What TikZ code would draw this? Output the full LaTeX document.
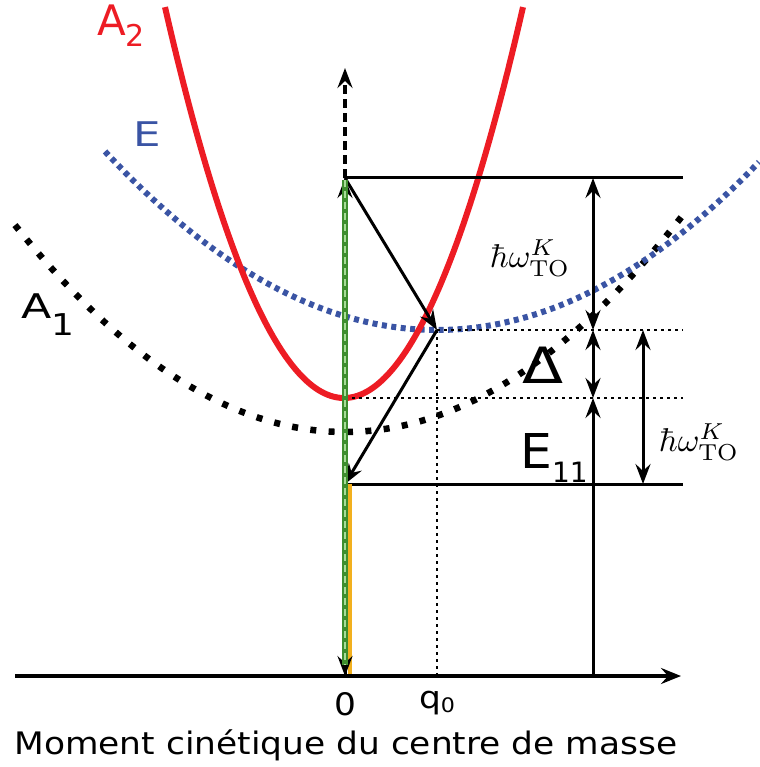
\documentclass[tikz,border=0pt]{standalone}
\usepackage[no-math]{fontspec}
\setmainfont{DejaVu Sans}
\usepackage{graphicx}
\usetikzlibrary{arrows.meta}
\definecolor{acol}{HTML}{ED1C24}
\definecolor{ecol}{HTML}{3A54A4}
\definecolor{gdark}{HTML}{3E8E2E}
\definecolor{glight}{HTML}{A8DC98}
\definecolor{ycol}{HTML}{F2B01E}
\newcommand{\lowsub}[3]{\raisebox{-#2pt}{\fontsize{#1}{#1}\selectfont #3}}
\newcommand{\wide}[2]{\scalebox{#1}[1]{#2}}
\newcommand{\hwto}{\scalebox{3.3}{$\hbar\omega^K_{\mathrm{TO}}$}}
\tikzset{
  arr/.style={-{Stealth[length=20pt,width=15pt,inset=7pt]}, line width=3pt},
  dblarr/.style={{Stealth[length=20pt,width=15pt,inset=7pt]}-{Stealth[length=20pt,width=15pt,inset=7pt]}, line width=3pt},
  lvl/.style={line width=3pt},
  aux/.style={line width=2.8pt, dash pattern=on 2.8pt off 4.2pt},
  axis/.style={-{Stealth[length=20pt,width=16pt,inset=7pt]}, line width=4.5pt},
  lbl/.style={inner sep=0pt, anchor=base west},
  hw/.style={inner sep=0pt},
}
\begin{document}
\begin{tikzpicture}[x=1pt,y=-1pt]
  \useasboundingbox (0,0) rectangle (759,767);
  \coordinate (orig) at (345,676);
  \coordinate (xend) at (681,676);
  \coordinate (xstart) at (15,676);
  \coordinate (exc) at (345,178);
  \coordinate (ytop) at (345,68);
  \coordinate (q) at (437,330);
  \coordinate (qfoot) at (437,676);
  \coordinate (bot) at (345,398);
  \coordinate (fin) at (345,484);
  \coordinate (excR) at (683,178);
  \coordinate (qR) at (683,330);
  \coordinate (botR) at (683,398);
  \coordinate (finR) at (683,484);
  \coordinate (m1) at (593,178);
  \coordinate (m2) at (593,330);
  \coordinate (m3) at (593,398);
  \coordinate (m4) at (593,676);
  \coordinate (n1) at (643,330);
  \coordinate (n2) at (643,484);
  % bands
  \draw[line width=6.5pt, black, dash pattern=on 6pt off 12.4pt]
    plot[domain=15:685, samples=120] (\x,{432-19*((\x-345)/100)^2});
  \draw[line width=6pt, ecol, dash pattern=on 5pt off 4.5pt]
    plot[domain=105:759, samples=120] (\x,{330-16.2*((\x-437)/100)^2});
  \draw[line width=6pt, acol]
    plot[domain=165:523, samples=120] (\x,{398-122*((\x-344)/100)^2});
  % levels
  \draw[lvl] (exc) -- (excR);
  \draw[lvl] (fin) -- (finR);
  \draw[aux] (q) -- (qR);
  \draw[aux] (bot) -- (botR);
  \draw[aux] (q) -- (qfoot);
  \draw[dblarr] (m2) -- (m1);
  \draw[dblarr] (m2) -- (m3);
  \draw[arr] (m4) -- (m3);
  \draw[dblarr] (n1) -- (n2);
  \draw[arr] (exc) -- (q);
  \draw[arr] (q) -- (fin);
  \draw[arr, line width=4.5pt, dash pattern=on 9pt off 5pt] (exc) -- (ytop);
  \draw[line width=4pt, ycol] ([xshift=4.5pt]fin) -- ([xshift=4.5pt]orig);
  \draw[arr] (orig) -- (exc);
  \draw[arr] (fin) -- (orig);
  \draw[line width=5.5pt, gdark, shorten >=11pt, shorten <=2pt] (exc) -- (orig);
  \draw[line width=2.5pt, glight, dash pattern=on 7pt off 4pt, shorten >=11pt, shorten <=2pt] (exc) -- (orig);
  \draw[axis] (xstart) -- (xend);
  % labels
  \node[lbl, text=acol, font=\fontsize{42}{48}\selectfont] (a2) at (97,36) {A\lowsub{30}{11}{2}};
  \node[lbl, text=ecol, font=\fontsize{34}{40}\selectfont] (e) at (133,147) {\wide{1.28}{E}};
  \node[lbl, font=\fontsize{34}{40}\selectfont] (a1) at (21,318) {\wide{1.3}{A}\lowsub{30}{17}{\wide{1.2}{1}}};
  \node[lbl, font=\fontsize{50}{56}\selectfont] (delta) at (522,383) {\wide{1.2}{Δ}};
  \node[lbl, font=\fontsize{48}{54}\selectfont] (e11) at (520,468) {\wide{1.05}{E}\lowsub{28}{14}{11}};
  \node[hw] (hw1) at (530,258) {\hwto};
  \node[hw] (hw2) at (699,442) {\hwto};
  \node[inner sep=0pt, font=\fontsize{31}{36}\selectfont] (zero) at (345,704) {\wide{1.11}{0}};
  \node[inner sep=0pt, font=\fontsize{31}{36}\selectfont] (q0) at (437,703) {\wide{1.11}{q\lowsub{20}{4}{0}}};
  \node[inner sep=0pt, font=\fontsize{31}{36}\selectfont] (title) at (346,745) {\wide{1.11}{Moment cinétique du centre de masse}};
\end{tikzpicture}
\end{document}
